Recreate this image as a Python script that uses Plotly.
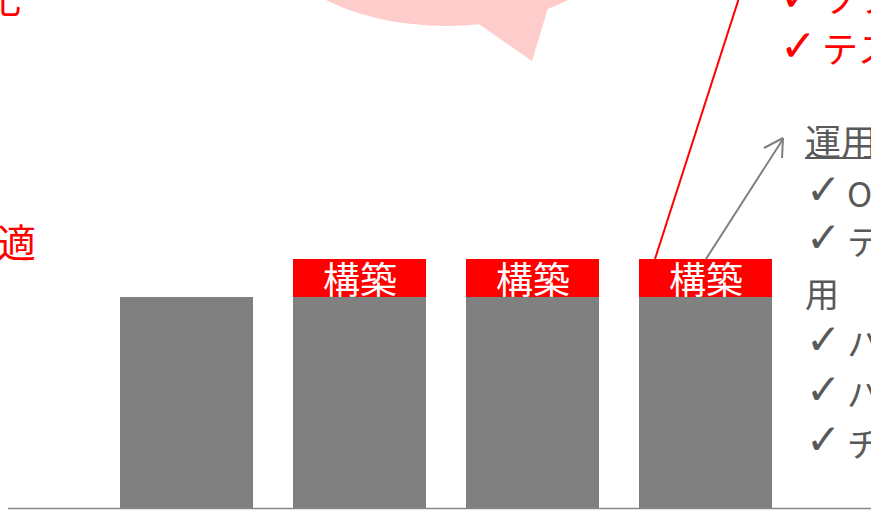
import plotly.graph_objects as go

W, H = 871, 510

# ---- data ----
categories = ["現状", "1年目", "2年目", "3年目"]
base_values = [100, 100, 100, 100]      # 運用 (gray)
build_values = [0, 18, 18, 18]          # 構築 (red)
build_label = "構築"

red_lines = ["ソフトウェア開発", "テスト自動化"]
gray_title = "運用保守"
gray_lines = ["OS・ミドルウェア", "テスト環境の運", None, "ハードウェア", "バックアップ", "チューニング"]
gray_wrap = "用"
CHECK = "✓"

FONT = "Noto Sans CJK JP, Noto Sans, sans-serif"
CHECK_FONT = "DejaVu Sans"
GRAY = "#808080"
RED = "#FF0000"
TXT_GRAY = "#595959"


def px(x):
    return x / W


def py(y):
    return 1 - y / H


fig = go.Figure()
fig.add_trace(go.Bar(x=list(range(len(categories))), y=base_values, marker_color=GRAY,
                     marker_line_width=0, width=0.769, name="運用",
                     hovertext=categories))
fig.add_trace(go.Bar(x=list(range(len(categories))), y=build_values, marker_color=RED,
                     marker_line_width=0, width=0.769, name=build_label,
                     hovertext=categories))

annotations = []
for i, (b, r) in enumerate(zip(base_values, build_values)):
    if r > 0:
        annotations.append(dict(x=i, y=b + r / 2, xref="x", yref="y", text=build_label,
                                showarrow=False, font=dict(size=37, color="white", family=FONT),
                                xanchor="center", yanchor="middle"))


def label(x, y, text, size, color, anchor="left", family=FONT):
    annotations.append(dict(x=px(x), y=py(y), xref="paper", yref="paper", text=text,
                            showarrow=False, xanchor=anchor, yanchor="middle",
                            font=dict(size=size, color=color, family=family)))


# left red fragments
label(23, -4, "可視化", 38, RED, "right")
label(38, 240, "最適", 39, RED, "right")

# top-right red list
for k, t in enumerate(red_lines):
    yy = -3 + 50 * k
    label(778, yy - 2, CHECK, 44, RED, family=CHECK_FONT)
    label(820, yy, t, 36, RED)

# right gray list
label(803, 140, gray_title, 36, TXT_GRAY)
gray_y = [192, 240, 292, 342, 392, 442]
for t, yy in zip(gray_lines, gray_y):
    if t is None:
        label(803, yy, gray_wrap, 34, TXT_GRAY)
    else:
        label(804, yy - 3, CHECK, 42, TXT_GRAY, family=CHECK_FONT)
        label(845, yy, t, 34, TXT_GRAY)

shapes = []
# pink speech bubble
cx, by, a, b = 447, 26, 180, 100
shapes.append(dict(type="circle", xref="paper", yref="paper",
                   x0=px(cx - a), x1=px(cx + a), y0=py(by), y1=py(by - 2 * b),
                   fillcolor="#FFCCCC", line_width=0, layer="below"))
tail = [(473, 20), (532, 61), (549, 5)]
path = "M " + " L ".join(f"{px(x):.5f},{py(y):.5f}" for x, y in tail) + " Z"
shapes.append(dict(type="path", xref="paper", yref="paper", path=path,
                   fillcolor="#FFCCCC", line_width=0, layer="below"))
# red connector line
shapes.append(dict(type="line", xref="paper", yref="paper", x0=px(655), y0=py(259),
                   x1=px(739), y1=py(-2), line=dict(color=RED, width=2)))
# gray arrow
shapes.append(dict(type="line", xref="paper", yref="paper", x0=px(706), y0=py(259),
                   x1=px(783), y1=py(139), line=dict(color=GRAY, width=2)))
shapes.append(dict(type="line", xref="paper", yref="paper", x0=px(764), y0=py(148),
                   x1=px(783), y1=py(138), line=dict(color=GRAY, width=2)))
shapes.append(dict(type="line", xref="paper", yref="paper", x0=px(782), y0=py(158),
                   x1=px(783), y1=py(138), line=dict(color=GRAY, width=2)))
# underline of title
shapes.append(dict(type="line", xref="paper", yref="paper", x0=px(805), y0=py(158),
                   x1=px(875), y1=py(158), line=dict(color=TXT_GRAY, width=2)))
# baseline
shapes.append(dict(type="line", xref="paper", yref="paper", x0=px(8), y0=py(508.5),
                   x1=px(875), y1=py(508.5), line=dict(color="#888888", width=1.5)))

unit_px = 211 / 100
fig.update_layout(
    width=W, height=H, margin=dict(l=0, r=0, t=0, b=0),
    barmode="stack", bargap=0, showlegend=False,
    plot_bgcolor="white", paper_bgcolor="white",
    xaxis=dict(range=[-186.5 / 173, -186.5 / 173 + W / 173], visible=False, fixedrange=True),
    yaxis=dict(range=[-2 / unit_px, 508 / unit_px], visible=False, fixedrange=True),
    annotations=annotations, shapes=shapes,
    font=dict(family=FONT),
)
fig.write_html("out.html")
